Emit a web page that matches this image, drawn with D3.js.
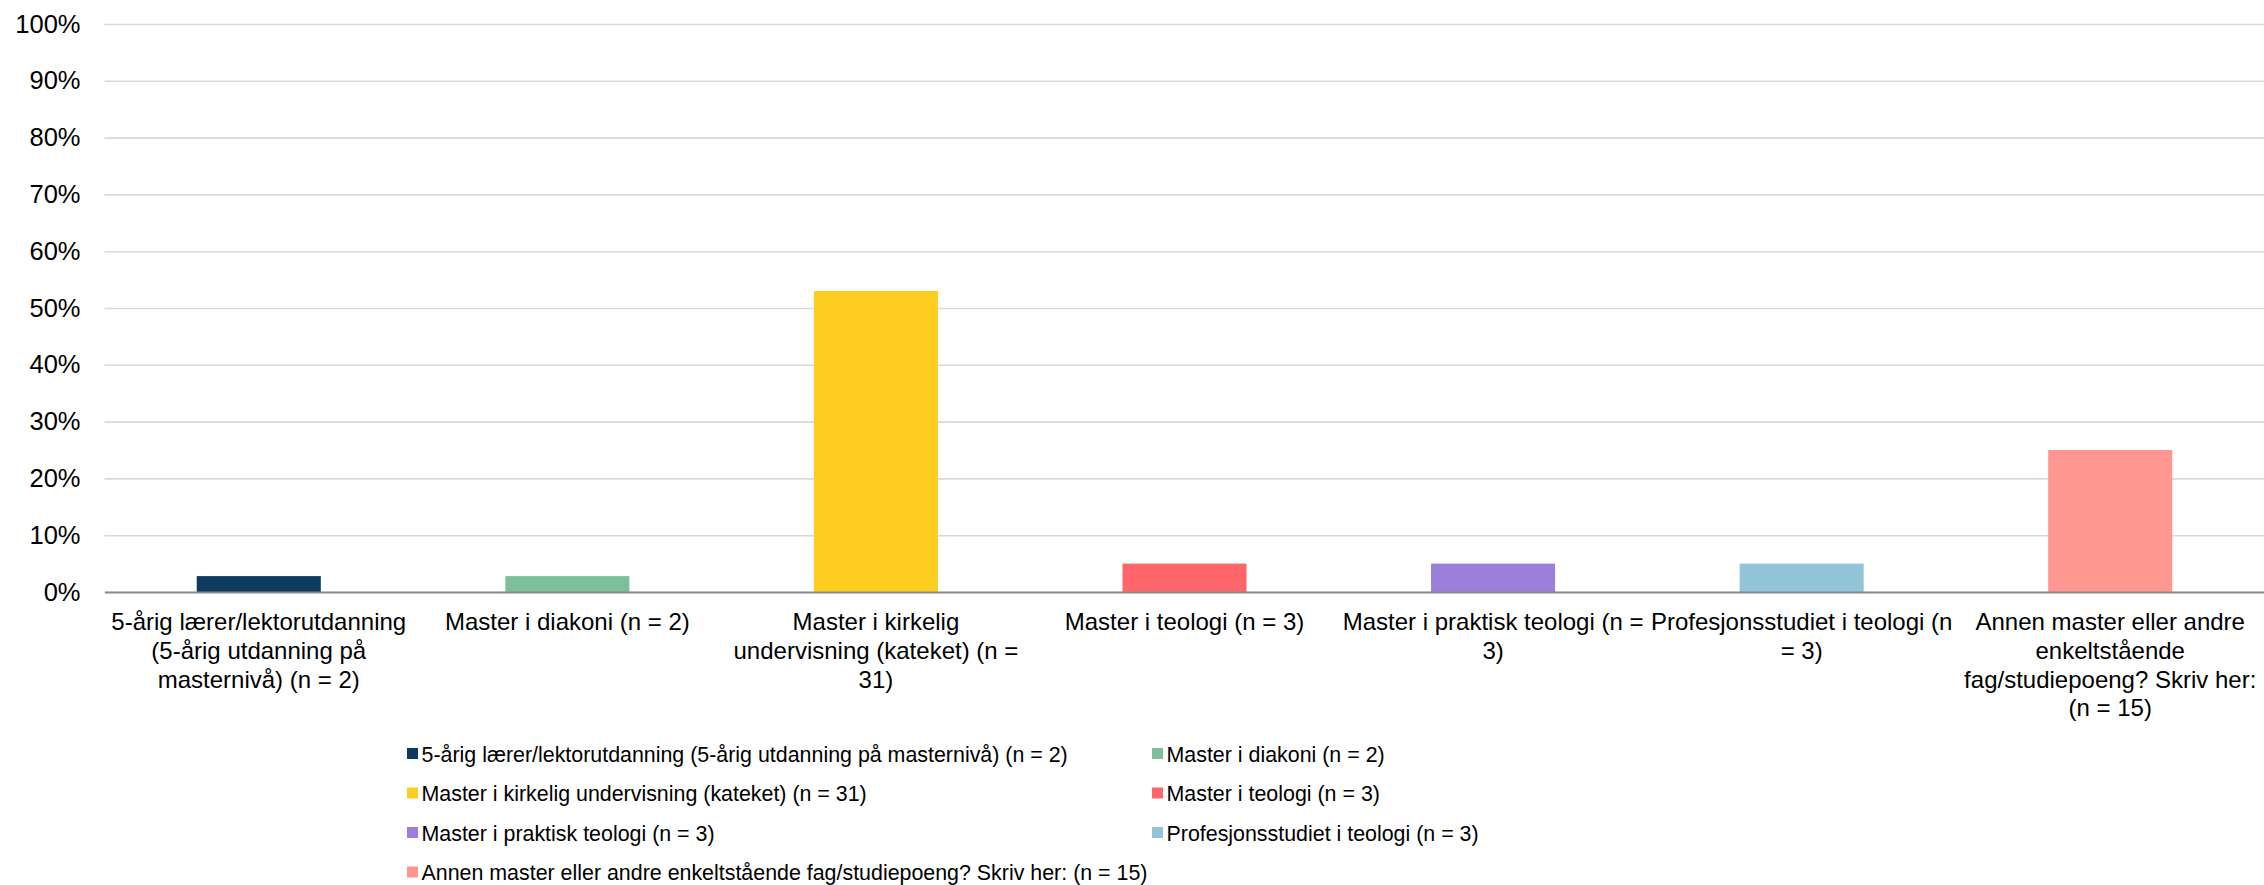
<!DOCTYPE html>
<html>
<head>
<meta charset="utf-8">
<script src="https://cdn.jsdelivr.net/npm/d3@7"></script>
<style>
  html, body { margin: 0; padding: 0; background: #ffffff; }
  svg { display: block; }
  text { font-family: "Liberation Sans", Arial, sans-serif; fill: #000; }
</style>
</head>
<body>
<svg id="chart" width="2264" height="885"></svg>
<script>
const categories = [
  "5-årig lærer/lektorutdanning (5-årig utdanning på masternivå) (n = 2)",
  "Master i diakoni (n = 2)",
  "Master i kirkelig undervisning (kateket) (n = 31)",
  "Master i teologi (n = 3)",
  "Master i praktisk teologi (n = 3)",
  "Profesjonsstudiet i teologi (n = 3)",
  "Annen master eller andre enkeltstående fag/studiepoeng? Skriv her: (n = 15)"
];
const values = [0.028, 0.028, 0.53, 0.05, 0.05, 0.05, 0.25];
const colors = ["#0e3a5f", "#7bbf9b", "#fdcd1f", "#ff6669", "#9b7fdb", "#92c5d7", "#ff9690"];
const yTicks = [0, 0.1, 0.2, 0.3, 0.4, 0.5, 0.6, 0.7, 0.8, 0.9, 1.0];

(function () {
const svg = d3.select("#chart");
const plotLeft = 104.5, plotRight = 2264.5, plotTop = 24, plotBottom = 592;

const x = d3.scaleBand().domain(categories).range([plotLeft, plotRight])
  .paddingInner(0.598).paddingOuter(0.299);
const y = d3.scaleLinear().domain([0, 1]).range([plotBottom, plotTop]);

// gridlines
const grid = d3.axisLeft(y).tickValues(yTicks).tickSize(-(plotRight - plotLeft)).tickFormat("");
svg.append("g").attr("transform", `translate(${plotLeft},0)`).call(grid)
  .call(g => g.select(".domain").remove())
  .call(g => g.selectAll(".tick line").attr("stroke", "#d9d9d9").attr("stroke-width", 1.6));

// y labels
const yAxis = d3.axisLeft(y).tickValues(yTicks).tickSize(0).tickPadding(24)
  .tickFormat(d => Math.round(d * 100) + "%");
svg.append("g").attr("transform", `translate(${plotLeft},0)`).call(yAxis)
  .call(g => g.select(".domain").remove())
  .call(g => g.selectAll("text").attr("font-size", 25.5).attr("font-family", "Liberation Sans, Arial, sans-serif").attr("fill", "#000"));

// bars
svg.append("g").selectAll("rect").data(categories).join("rect")
  .attr("x", d => x(d))
  .attr("width", x.bandwidth())
  .attr("y", (d, i) => y(values[i]))
  .attr("height", (d, i) => y(0) - y(values[i]))
  .attr("fill", (d, i) => colors[i]);

// x axis line
const xAxis = d3.axisBottom(x).tickSize(0).tickFormat("");
const xg = svg.append("g").attr("transform", `translate(0,${plotBottom})`).call(xAxis);
xg.select(".domain").attr("stroke", "#8c8c8c").attr("stroke-width", 2);

// category labels with wrapping
function wrapLines(text, width, size) {
  const tmp = svg.append("text").attr("font-size", size);
  const words = text.split(" ");
  const lines = [];
  let cur = [];
  words.forEach(w => {
    const test = cur.concat([w]).join(" ");
    tmp.text(test);
    if (tmp.node().getComputedTextLength() > width && cur.length) {
      lines.push(cur.join(" "));
      cur = [w];
    } else cur.push(w);
  });
  if (cur.length) lines.push(cur.join(" "));
  tmp.remove();
  return lines;
}
const labelG = svg.append("g");
categories.forEach((c, i) => {
  const lines = wrapLines(c, 305, 24);
  const t = labelG.append("text")
    .attr("x", x(c) + x.bandwidth() / 2)
    .attr("y", 630)
    .attr("text-anchor", "middle")
    .attr("font-size", 24);
  lines.forEach((l, j) => {
    t.append("tspan").attr("x", x(c) + x.bandwidth() / 2).attr("y", 630 + j * 28.8).text(l);
  });
});

// legend
const legCols = [407, 1152];
const legRowY = [754, 793.5, 833, 872.5];
const legend = svg.append("g");
categories.forEach((c, i) => {
  const col = i % 2, row = Math.floor(i / 2);
  const g = legend.append("g").attr("transform", `translate(${legCols[col]},${legRowY[row]})`);
  g.append("rect").attr("x", 0).attr("y", -6).attr("width", 11).attr("height", 11).attr("fill", colors[i]);
  g.append("text").attr("x", 14.5).attr("y", 7.5).attr("font-size", 21.4).text(c);
});
})();
</script>
</body>
</html>
